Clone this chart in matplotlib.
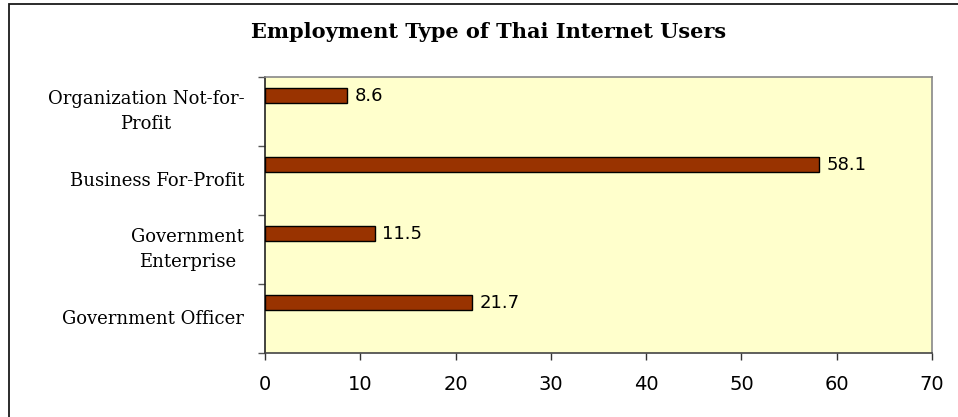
import numpy as np
import matplotlib.pyplot as plt
from matplotlib.patches import Rectangle

# employment categories, bottom to top
categories = ['Government Officer', 'Government\nEnterprise',
              'Business For-Profit', 'Organization Not-for-\nProfit']
shares = [21.7, 11.5, 58.1, 8.6]
xticks = [0, 10, 20, 30, 40, 50, 60, 70]


def main():
   fig = plt.figure(figsize=(9.58, 4.17), dpi=100)

   # chart frame (only top/left edges fall inside the image)
   fig.patches.append(Rectangle((9 / 958, -0.2), 1.2, 1.2 - 4 / 417,
                                transform=fig.transFigure, fill=False,
                                edgecolor='#1a1a1a', linewidth=1.3))

   ax = fig.add_axes([265 / 958, 64 / 417, 667 / 958, 276 / 417])
   ax.set_facecolor('#FFFFCC')

   pos = np.arange(len(categories))
   ax.barh(pos + 0.73, shares, height=0.22, color='#993300',
           edgecolor='black', linewidth=1.0, zorder=3)
   for y, v in zip(pos, shares):
      ax.text(v + 0.8, y + 0.73, '%.1f' % v, va='center', ha='left',
              fontsize=13, family='DejaVu Sans', color='black')

   ax.set_xlim(0, 70)
   ax.set_ylim(0, 4)
   ax.set_xticks(xticks)
   ax.set_xticklabels([str(t) for t in xticks], fontsize=14,
                      family='DejaVu Sans')
   ax.set_yticks(np.arange(5))
   ax.set_yticklabels([])
   ax.set_yticks(pos + 0.5, minor=True)
   ax.set_yticklabels(categories, minor=True, fontsize=13,
                      family='DejaVu Serif')
   for lab in ax.get_yticklabels(minor=True):
      lab.set_multialignment('center')
      lab.set_linespacing(1.5)
      lab.set_verticalalignment('center')
   ax.tick_params(axis='y', which='minor', length=0, pad=15)
   ax.tick_params(axis='y', which='major', length=5, width=1,
                  color='#555555')
   ax.tick_params(axis='x', length=5, width=1, color='#333333', pad=11)

   ax.spines['left'].set_color('#222222')
   ax.spines['bottom'].set_color('#444444')
   ax.spines['top'].set_color('#888888')
   ax.spines['right'].set_color('#888888')
   for s in ax.spines.values():
      s.set_linewidth(1.2)

   fig.text(489 / 958, 1 - 32 / 417, 'Employment Type of Thai Internet Users',
            ha='center', va='center', fontsize=15, fontweight='bold',
            family='DejaVu Serif')

   fig.savefig('out.png', dpi=100)


if __name__ == '__main__':
   main()
